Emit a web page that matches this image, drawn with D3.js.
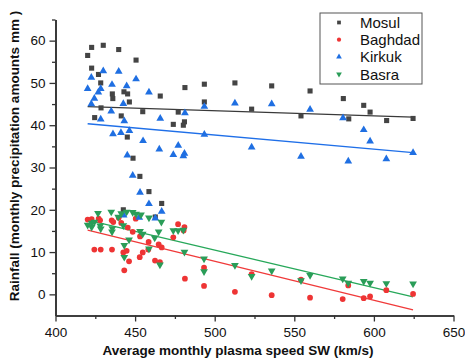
<!DOCTYPE html>
<html>
<head>
<meta charset="utf-8">
<script src="https://cdn.jsdelivr.net/npm/d3@7"></script>
<style>
  body { margin: 0; background: #fff; }
  text { font-family: "Liberation Sans", Arial, sans-serif; }
</style>
</head>
<body>
<div id="chart"></div>
<script>
// speed (km/s), rainfall (mm) per station
let mosulX = [420.2,422.7,422.7,430,427,428.4,428.6,424.6,439.7,435.7,436,441.3,443,445.3,446.4,450.6,445.1,454.8,448.7,453,458.7,466.7,462.7,442.6,465.8,474,480.3,481,481.3,477.1,493.5,493.5,512.7,523.2,535.8,554.2,559.9,580.8,584.2,593.6,597.6,608,624.6];
let mosulY = [56.5,58.4,53.5,58.9,52,50,44.1,41.8,57.9,47.4,46.3,42.2,47.9,47.4,45.5,55.4,37.2,43.2,32.2,27.9,24.3,21.5,18.3,20,46.9,40.2,40,40.8,48.9,43.1,49.7,45.5,50,43.8,49.3,42.2,48.1,46.3,41.5,44.7,43.1,41.1,41.6];

let baghdadX = [420.2,422.7,424.4,427.1,428.4,428,435.3,436.3,435.5,439.7,441.3,442.6,444.7,443.2,445.4,448.5,446.2,450.4,452.9,453.1,454.8,458.5,458.3,462.5,464.8,466.7,465.6,474,477,480.5,481,481.3,493.3,493.3,512.7,523.2,535.8,554.2,559.9,580.4,583.9,593.6,597.6,607.8,624.6];
let baghdadY = [17.7,17.8,10.6,17.9,10.6,17.5,17.5,17.1,10.6,18.1,16.9,9.9,10.3,5.7,15.8,14.8,7.8,17.9,8.8,13.7,9.9,12.4,10.6,8,11.8,11.1,7.6,13.5,16.6,15.1,15.9,3.7,6.3,2,0.6,4.8,-0.2,3.5,-0.8,-1.1,2.1,-0.9,-0.5,1,0.1];

let kirkukX = [420.2,422.5,422.5,424.4,426.9,428.4,428.4,430,435.5,435,436.1,439.7,441.1,442.6,443.2,444.7,446.4,445.1,450.6,455,448.5,458.7,465.2,465.8,474,477.1,481,480.3,481.3,493.5,493.5,512.7,523.2,535.8,554.2,559.9,580.6,583.9,593.6,597.6,607.8,624.6,453.1,458.7,466.7,442.8,452.6,462.7];
let kirkukY = [48.6,51.3,45,46.3,47.8,48.6,41.4,52.8,49.6,43.3,37.9,52.7,38.2,45.1,41,49.3,38.7,32.9,50.9,36.3,28.1,47.8,34.3,41.6,33,35.2,33.3,32.7,42.9,37.8,44.4,45.2,34.8,45,32.6,43.7,41.7,31.5,38.9,36.2,32,33.5,24.1,21.4,19.6,18.7,18.2,18];

let basraX = [420.2,422.7,422.7,424.4,426.7,428.1,428.4,435,435.5,435.7,439.4,441.3,442.6,443.2,443.2,444.7,446.2,448.5,450.6,453.1,453.7,454.8,458.7,458.7,462.3,464.8,466.5,465.6,474,477,480.3,481,493.3,493.3,512.7,523.2,535.8,554.2,559.9,580.4,583.9,593.6,597.6,607.8,624.6];
let basraY = [16.4,16.9,15.9,17.1,19.2,16.2,15.5,19.5,14.8,15.6,18.3,19.1,16.3,8.8,11.6,19.5,12.9,19.4,19,14.9,18.8,14.3,18.1,10.8,13.4,14.8,17.1,7,15.1,15.1,15.2,10,8.4,5.4,6.9,4.3,5.6,3.3,4.5,3.7,2.7,3.1,2.7,2.6,2.5];

let seriesNames = ["Mosul", "Baghdad", "Kirkuk", "Basra"];
let xTicks = [400, 450, 500, 550, 600, 650];
let yTicks = [0, 10, 20, 30, 40, 50, 60];

let width = 465;
let height = 358;

let svg = d3.select("#chart").append("svg")
  .attr("width", width)
  .attr("height", height);

let x = d3.scaleLinear().domain([400, 650]).range([55.5, 453.5]);
let y = d3.scaleLinear().domain([-5, 65]).range([315.5, 19.5]);

let series = [
  {name: "Mosul", xs: mosulX, ys: mosulY, color: "#444444", line: "#3a3a3a", shape: d3.symbolSquare, size: 26},
  {name: "Baghdad", xs: baghdadX, ys: baghdadY, color: "#ee3434", line: "#f03a3a", shape: d3.symbolCircle, size: 26},
  {name: "Kirkuk", xs: kirkukX, ys: kirkukY, color: "#1f6fe2", line: "#1f6fe8", shape: d3.symbolTriangle, size: 26},
  {name: "Basra", xs: basraX, ys: basraY, color: "#2a9d58", line: "#27a85a", shape: d3.symbolTriangle, size: 26, flip: true}
];

// least squares fit for each station
function fit(xs, ys) {
  let mx = d3.mean(xs), my = d3.mean(ys);
  let sxy = d3.sum(xs, function(v, i) { return (v - mx) * (ys[i] - my); });
  let sxx = d3.sum(xs, function(v) { return (v - mx) * (v - mx); });
  let b = sxy / sxx;
  return {a: my - b * mx, b: b};
}

series.forEach(function(s) {
  let f = fit(s.xs, s.ys);
  let x0 = d3.min(s.xs), x1 = d3.max(s.xs);
  svg.append("line")
    .attr("x1", x(x0)).attr("y1", y(f.a + f.b * x0))
    .attr("x2", x(x1)).attr("y2", y(f.a + f.b * x1))
    .attr("stroke", s.line)
    .attr("stroke-width", 1.3);
});

series.forEach(function(s) {
  let sym = d3.symbol().type(s.shape).size(s.size);
  svg.append("g").selectAll("path")
    .data(s.xs.map(function(v, i) { return [v, s.ys[i]]; }))
    .enter().append("path")
    .attr("d", sym)
    .attr("fill", s.color)
    .attr("transform", function(d) {
      return "translate(" + x(d[0]) + "," + y(d[1]) + ")" + (s.flip ? " rotate(180)" : "");
    });
});

// axes
let xAxis = svg.append("g")
  .attr("transform", "translate(0," + y(-5) + ")")
  .call(d3.axisBottom(x).tickValues(xTicks).tickSize(6).tickSizeOuter(0).tickFormat(d3.format("d")));
svg.append("g")
  .attr("transform", "translate(0," + y(-5) + ")")
  .call(d3.axisBottom(x).tickValues([425, 475, 525, 575, 625]).tickSize(3.5).tickSizeOuter(0).tickFormat(""));

let yAxis = svg.append("g")
  .attr("transform", "translate(" + x(400) + ",0)")
  .call(d3.axisLeft(y).tickValues(yTicks).tickSize(6).tickSizeOuter(0));
svg.append("g")
  .attr("transform", "translate(" + x(400) + ",0)")
  .call(d3.axisLeft(y).tickValues([5, 15, 25, 35, 45, 55, 65]).tickSize(3.5).tickSizeOuter(0).tickFormat(""));

svg.selectAll(".domain").attr("stroke", "#333").attr("stroke-width", 1.6);
svg.selectAll(".tick line").attr("stroke", "#333").attr("stroke-width", 1.3);
svg.selectAll(".tick text")
  .attr("fill", "#111")
  .style("font-size", "13.5px")
  .style("font-family", "'Liberation Sans', Arial, sans-serif");
xAxis.selectAll(".tick text").attr("dy", "0.95em");
yAxis.selectAll(".tick text").attr("x", -10);

svg.append("text")
  .attr("x", 238)
  .attr("y", 355)
  .attr("text-anchor", "middle")
  .style("font-size", "13.5px")
  .style("font-weight", "bold")
  .attr("fill", "#111")
  .text("Average monthly plasma speed SW (km/s)");

svg.append("text")
  .attr("transform", "translate(19,156) rotate(-90)")
  .attr("text-anchor", "middle")
  .style("font-size", "13.5px")
  .style("font-weight", "bold")
  .attr("fill", "#111")
  .text("Rainfall (monthly precipitation amounts mm )");

// legend
let legend = svg.append("g").attr("transform", "translate(320,13)");
legend.append("rect")
  .attr("width", 102).attr("height", 71)
  .attr("fill", "#fff")
  .attr("stroke", "#555")
  .attr("stroke-width", 1);

let items = legend.selectAll(".item")
  .data(series)
  .enter().append("g")
  .attr("class", "item")
  .attr("transform", function(d, i) { return "translate(0," + (9.5 + i * 17.2) + ")"; });

items.append("path")
  .attr("d", function(d) { return d3.symbol().type(d.shape).size(14)(); })
  .attr("fill", function(d) { return d.color; })
  .attr("transform", function(d) { return "translate(19,0)" + (d.flip ? " rotate(180)" : ""); });

items.append("text")
  .attr("x", 40)
  .attr("dy", "0.36em")
  .style("font-size", "15px")
  .attr("fill", "#111")
  .text(function(d, i) { return seriesNames[i]; });
</script>
</body>
</html>
